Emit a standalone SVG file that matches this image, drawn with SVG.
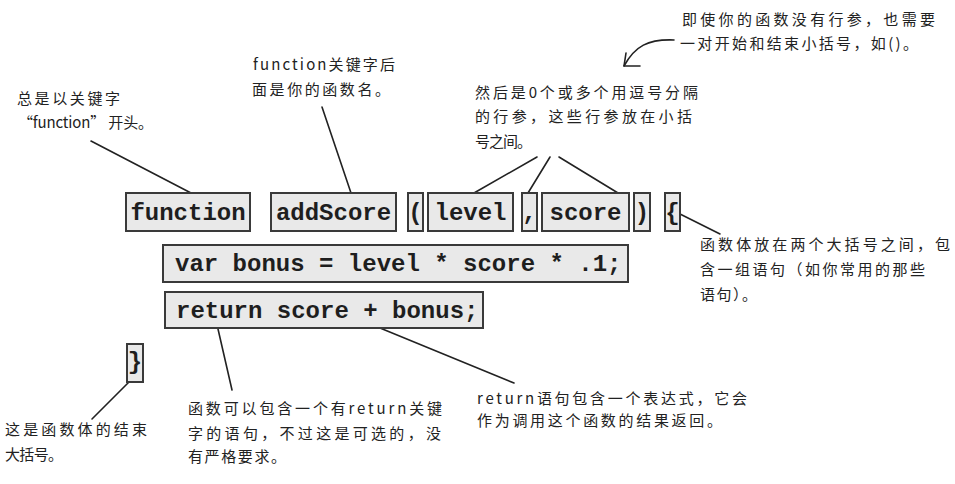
<svg xmlns="http://www.w3.org/2000/svg" width="955" height="484" viewBox="0 0 955 484">
<style>
.box{fill:#e9e9e9;stroke:#3a3a3a;stroke-width:2}
.code{font-family:"Liberation Mono","DejaVu Sans Mono",monospace;font-weight:bold;font-size:24px;fill:#1e1e1e}
.note{font-family:"Noto Sans CJK SC","Noto Sans",sans-serif;font-size:15px;fill:#222}
.conn{stroke:#222;stroke-width:1.6;fill:none;stroke-linecap:round;stroke-linejoin:round}
</style>
<rect width="955" height="484" fill="#ffffff"/>

<g id="connectors">
<line class="conn" x1="91" y1="141" x2="191" y2="193"/>
<line class="conn" x1="322" y1="107" x2="351" y2="193"/>
<line class="conn" x1="537" y1="157" x2="474" y2="193"/>
<line class="conn" x1="550" y1="157" x2="528" y2="193"/>
<line class="conn" x1="559" y1="157" x2="618" y2="193"/>
<line class="conn" x1="680" y1="214" x2="720" y2="234"/>
<line class="conn" x1="129" y1="382" x2="92" y2="419"/>
<line class="conn" x1="218" y1="329" x2="232" y2="390"/>
<line class="conn" x1="380" y1="328" x2="514" y2="383"/>
<path class="conn" d="M674,40 C648,39 635,46 624,66"/>
<path class="conn" d="M640,66 L624,66 L626,53"/>
</g>

<g id="n-function"><rect class="box" x="126" y="193" width="124" height="38"/><text class="code" x="188" y="220" text-anchor="middle">function</text></g>
<g id="n-addScore"><rect class="box" x="271" y="193" width="125" height="38"/><text class="code" x="333.5" y="220" text-anchor="middle">addScore</text></g>
<g id="n-lparen"><rect class="box" x="408" y="193" width="15" height="38"/><text class="code" x="415.5" y="220" text-anchor="middle">(</text></g>
<g id="n-level"><rect class="box" x="428" y="193" width="85" height="38"/><text class="code" x="470.5" y="220" text-anchor="middle">level</text></g>
<g id="n-comma"><rect class="box" x="522" y="193" width="15" height="38"/><text class="code" x="529.5" y="220" text-anchor="middle">,</text></g>
<g id="n-score"><rect class="box" x="542" y="193" width="87" height="38"/><text class="code" x="585.5" y="220" text-anchor="middle">score</text></g>
<g id="n-rparen"><rect class="box" x="634" y="193" width="16" height="38"/><text class="code" x="642" y="220" text-anchor="middle">)</text></g>
<g id="n-lbrace"><rect class="box" x="665" y="193" width="15" height="38"/><text class="code" x="672.5" y="220" text-anchor="middle">{</text></g>
<g id="n-var"><rect class="box" x="163" y="245" width="465" height="37"/><text class="code" x="175" y="271">var bonus = level * score * .1;</text></g>
<g id="n-return"><rect class="box" x="165" y="292" width="318" height="36"/><text class="code" x="176" y="318">return score + bonus;</text></g>
<g id="n-rbrace"><rect class="box" x="127" y="344" width="16" height="38"/><text class="code" x="135" y="369" text-anchor="middle">}</text></g>

<g id="note-function">
<text class="note" x="17" y="104" textLength="103" lengthAdjust="spacing">总是以关键字</text>
<text class="note" x="18" y="128" textLength="135" lengthAdjust="spacing">“function” 开头。</text>
</g>
<g id="note-name">
<text class="note" x="253" y="70" textLength="142" lengthAdjust="spacing">function关键字后</text>
<text class="note" x="252" y="95" textLength="138" lengthAdjust="spacing">面是你的函数名。</text>
</g>
<g id="note-noparams">
<text class="note" x="682" y="25" textLength="253" lengthAdjust="spacing">即使你的函数没有行参，也需要</text>
<text class="note" x="680" y="49" textLength="238" lengthAdjust="spacing">一对开始和结束小括号，如()。</text>
</g>
<g id="note-params">
<text class="note" x="475" y="98" textLength="223" lengthAdjust="spacing">然后是0个或多个用逗号分隔</text>
<text class="note" x="475" y="122" textLength="217" lengthAdjust="spacing">的行参，这些行参放在小括</text>
<text class="note" x="475" y="147" textLength="57" lengthAdjust="spacing">号之间。</text>
</g>
<g id="note-body">
<text class="note" x="700" y="250" textLength="250" lengthAdjust="spacing">函数体放在两个大括号之间，包</text>
<text class="note" x="700" y="275" textLength="225" lengthAdjust="spacing">含一组语句（如你常用的那些</text>
<text class="note" x="700" y="300" textLength="57" lengthAdjust="spacing">语句）。</text>
</g>
<g id="note-close">
<text class="note" x="5" y="435" textLength="142" lengthAdjust="spacing">这是函数体的结束</text>
<text class="note" x="5" y="460" textLength="58" lengthAdjust="spacing">大括号。</text>
</g>
<g id="note-return">
<text class="note" x="188" y="414" textLength="254" lengthAdjust="spacing">函数可以包含一个有return关键</text>
<text class="note" x="188" y="439" textLength="253" lengthAdjust="spacing">字的语句，不过这是可选的，没</text>
<text class="note" x="188" y="462" textLength="98" lengthAdjust="spacing">有严格要求。</text>
</g>
<g id="note-expr">
<text class="note" x="477" y="404" textLength="270" lengthAdjust="spacing">return语句包含一个表达式，它会</text>
<text class="note" x="477" y="426" textLength="245" lengthAdjust="spacing">作为调用这个函数的结果返回。</text>
</g>
</svg>
